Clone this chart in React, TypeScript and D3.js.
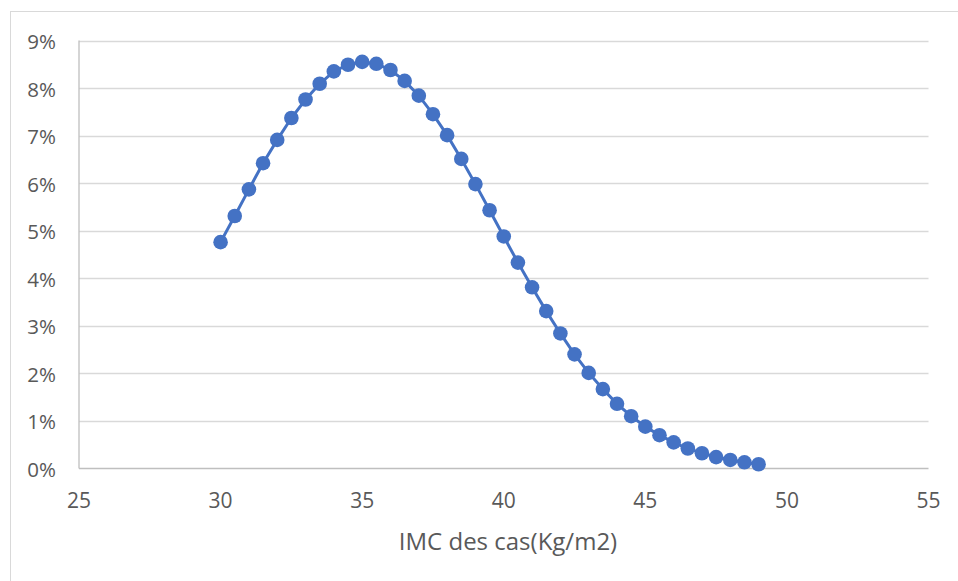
import * as d3 from "d3";
import { useEffect, useRef } from "react";

// IMC (kg/m2) values along x
const imc = [
  30, 30.5, 31, 31.5, 32, 32.5, 33, 33.5, 34, 34.5, 35, 35.5, 36, 36.5, 37,
  37.5, 38, 38.5, 39, 39.5, 40, 40.5, 41, 41.5, 42, 42.5, 43, 43.5, 44, 44.5,
  45, 45.5, 46, 46.5, 47, 47.5, 48, 48.5, 49,
];
// share of cases, in percent
const pct = [
  4.76, 5.31, 5.87, 6.42, 6.91, 7.37, 7.76, 8.09, 8.35, 8.49, 8.55, 8.51, 8.38,
  8.15, 7.84, 7.45, 7.01, 6.51, 5.98, 5.43, 4.88, 4.33, 3.81, 3.31, 2.84, 2.4,
  2.01, 1.67, 1.36, 1.1, 0.88, 0.7, 0.55, 0.42, 0.32, 0.24, 0.18, 0.13, 0.09,
];
const xTicks = [25, 30, 35, 40, 45, 50, 55];
const yTicks = [0, 1, 2, 3, 4, 5, 6, 7, 8, 9];
const xTitle = "IMC des cas(Kg/m2)";

const App = () => {
  const ref = useRef<SVGSVGElement>(null);

  useEffect(() => {
    document.body.style.margin = "0";
    const svg = d3.select(ref.current);
    svg.selectAll("*").remove();

    const W = 958,
      H = 581;
    const margin = { top: 40.5, left: 79 };
    const font = "'Open Sans', sans-serif";

    // chart frame
    svg
      .append("rect")
      .attr("x", 10.5)
      .attr("y", 11.5)
      .attr("width", W + 20)
      .attr("height", H + 20)
      .attr("fill", "#fff")
      .attr("stroke", "#d9d9d9");

    const x = d3.scaleLinear().domain([25, 55]).range([margin.left, 928.5]);
    const y = d3.scaleLinear().domain([0, 9]).range([468.5, margin.top]);

    // grid
    svg
      .append("g")
      .selectAll("line")
      .data(yTicks.filter((d) => d > 0))
      .enter()
      .append("line")
      .attr("x1", x(25))
      .attr("x2", x(55))
      .attr("y1", (d) => Math.round(y(d)) + 0.5)
      .attr("y2", (d) => Math.round(y(d)) + 0.5)
      .attr("stroke", "#d9d9d9")
      .attr("stroke-width", 1.3);

    // axes lines
    svg
      .append("line")
      .attr("x1", x(25))
      .attr("x2", x(55))
      .attr("y1", y(0))
      .attr("y2", y(0))
      .attr("stroke", "#bfbfbf")
      .attr("stroke-width", 1.3);
    svg
      .append("line")
      .attr("x1", x(25))
      .attr("x2", x(25))
      .attr("y1", y(0))
      .attr("y2", y(9))
      .attr("stroke", "#bfbfbf")
      .attr("stroke-width", 1.3);

    // y labels
    svg
      .append("g")
      .selectAll("text")
      .data(yTicks)
      .enter()
      .append("text")
      .attr("x", 56)
      .attr("y", (d) => y(d) + 8.5)
      .attr("text-anchor", "end")
      .attr("font-family", font)
      .attr("font-size", 20.5)
      .attr("fill", "#595959")
      .text((d) => `${d}%`);

    // x labels
    svg
      .append("g")
      .selectAll("text")
      .data(xTicks)
      .enter()
      .append("text")
      .attr("x", (d) => x(d))
      .attr("y", 507.5)
      .attr("text-anchor", "middle")
      .attr("font-family", font)
      .attr("font-size", 21)
      .attr("fill", "#595959")
      .text((d) => d);

    svg
      .append("text")
      .attr("x", 508)
      .attr("y", 549.5)
      .attr("text-anchor", "middle")
      .attr("font-family", font)
      .attr("font-size", 24)
      .attr("fill", "#595959")
      .text(xTitle);

    const data = imc.map((v, i) => ({ x: v, y: pct[i] }));

    const line = d3
      .line<{ x: number; y: number }>()
      .x((d) => x(d.x))
      .y((d) => y(d.y));

    svg
      .append("path")
      .datum(data)
      .attr("d", line)
      .attr("fill", "none")
      .attr("stroke", "#4472c4")
      .attr("stroke-width", 3);

    svg
      .append("g")
      .selectAll("circle")
      .data(data)
      .enter()
      .append("circle")
      .attr("cx", (d) => x(d.x))
      .attr("cy", (d) => y(d.y))
      .attr("r", 7.3)
      .attr("fill", "#4472c4");
  }, []);

  return <svg ref={ref} width={958} height={581} style={{ display: "block" }} />;
};

export default App;
